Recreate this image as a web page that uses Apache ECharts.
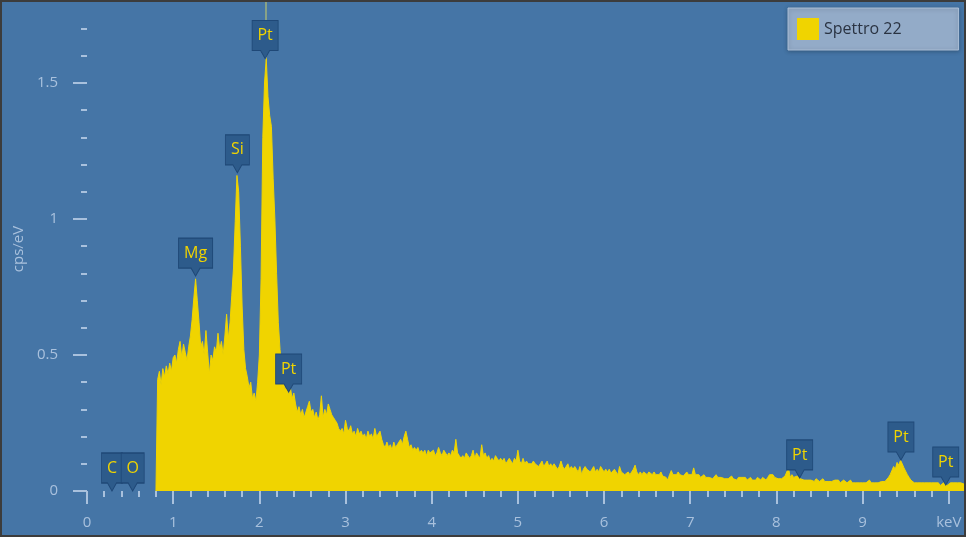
<!DOCTYPE html>
<html>
<head>
<meta charset="utf-8">
<script src="https://cdn.jsdelivr.net/npm/echarts@6/dist/echarts.min.js"></script>
<style>
html,body{margin:0;padding:0;background:#ffffff;}
#chart{width:969px;height:540px;}
</style>
</head>
<body>
<div id="chart"></div>
<script>
// ---------- data ----------
const seriesName = 'Spettro 22';
const yAxisName = 'cps/eV';
const xTickLabels = ['0','1','2','3','4','5','6','7','8','9','keV'];
const yTickValues = [0, 0.5, 1, 1.5];
const yTickLabels = ['0','0.5','1','1.5'];

// spectrum channels: first channel energy (keV) and channel width (keV)
const spectrumStart = 0.82;
const channelWidth = 0.02;
// counts in cps/eV, 10 channels (0.2 keV) per row
const spectrum = [
  0.41,0.44,0.39,0.45,0.42,0.46,0.43,0.47,0.44,0.49,   // 0.82-1.00
  0.50,0.47,0.52,0.55,0.49,0.54,0.51,0.48,0.53,0.57,   // 1.02-1.20
  0.63,0.71,0.78,0.70,0.62,0.53,0.55,0.50,0.59,0.51,   // 1.22-1.40
  0.43,0.50,0.48,0.53,0.51,0.58,0.52,0.55,0.50,0.57,   // 1.42-1.60
  0.65,0.56,0.62,0.72,0.82,0.99,1.16,1.10,0.90,0.68,   // 1.62-1.80
  0.52,0.45,0.42,0.38,0.40,0.34,0.36,0.33,0.40,0.50,   // 1.82-2.00
  0.78,1.30,1.50,1.59,1.45,1.38,1.34,1.15,1.00,0.80,   // 2.02-2.20
  0.62,0.52,0.45,0.40,0.37,0.39,0.35,0.38,0.34,0.36,   // 2.22-2.40
  0.32,0.29,0.31,0.28,0.30,0.27,0.29,0.31,0.33,0.29,   // 2.42-2.60
  0.30,0.27,0.29,0.26,0.28,0.35,0.27,0.30,0.28,0.32,   // 2.62-2.80
  0.30,0.28,0.27,0.26,0.25,0.23,0.22,0.23,0.21,0.26,   // 2.82-3.00
  0.23,0.22,0.24,0.21,0.22,0.20,0.23,0.21,0.22,0.20,   // 3.02-3.20
  0.21,0.19,0.22,0.20,0.21,0.19,0.23,0.20,0.21,0.22,   // 3.22-3.40
  0.19,0.17,0.16,0.18,0.16,0.17,0.15,0.18,0.16,0.17,   // 3.42-3.60
  0.18,0.19,0.17,0.20,0.22,0.19,0.16,0.17,0.15,0.16,   // 3.62-3.80
  0.15,0.16,0.14,0.15,0.14,0.15,0.13,0.15,0.14,0.14,   // 3.82-4.00
  0.15,0.13,0.14,0.16,0.14,0.13,0.15,0.14,0.13,0.14,   // 4.02-4.20
  0.13,0.15,0.14,0.19,0.14,0.13,0.12,0.13,0.12,0.14,   // 4.22-4.40
  0.13,0.12,0.13,0.15,0.12,0.14,0.13,0.12,0.17,0.13,   // 4.42-4.60
  0.14,0.12,0.13,0.11,0.12,0.11,0.13,0.12,0.11,0.12,   // 4.62-4.80
  0.11,0.12,0.10,0.11,0.12,0.11,0.10,0.12,0.11,0.15,   // 4.82-5.00
  0.11,0.10,0.12,0.10,0.11,0.10,0.095,0.10,0.11,0.10,  // 5.02-5.20
  0.10,0.09,0.10,0.11,0.09,0.10,0.11,0.09,0.10,0.09,   // 5.22-5.40
  0.10,0.09,0.08,0.09,0.11,0.09,0.08,0.09,0.10,0.08,   // 5.42-5.60
  0.09,0.08,0.09,0.08,0.07,0.09,0.06,0.08,0.09,0.08,   // 5.62-5.80
  0.08,0.07,0.08,0.09,0.07,0.08,0.07,0.09,0.08,0.07,   // 5.82-6.00
  0.08,0.07,0.08,0.065,0.07,0.08,0.07,0.06,0.09,0.07,  // 6.02-6.20
  0.07,0.06,0.065,0.07,0.06,0.07,0.08,0.095,0.07,0.06, // 6.22-6.40
  0.07,0.06,0.07,0.065,0.06,0.07,0.065,0.06,0.07,0.06, // 6.42-6.60
  0.065,0.06,0.07,0.055,0.06,0.05,0.04,0.06,0.075,0.06,// 6.62-6.80
  0.065,0.06,0.07,0.06,0.065,0.055,0.06,0.07,0.06,0.065,// 6.82-7.00
  0.06,0.085,0.06,0.055,0.06,0.05,0.055,0.06,0.05,0.055,// 7.02-7.20
  0.05,0.055,0.045,0.05,0.06,0.05,0.045,0.05,0.055,0.045,// 7.22-7.40
  0.05,0.045,0.05,0.055,0.045,0.05,0.04,0.05,0.045,0.05,// 7.42-7.60
  0.045,0.05,0.04,0.045,0.05,0.04,0.045,0.04,0.05,0.045,// 7.62-7.80
  0.04,0.05,0.045,0.04,0.05,0.06,0.066,0.06,0.05,0.045,// 7.82-8.00
  0.045,0.05,0.045,0.05,0.055,0.05,0.085,0.05,0.06,0.05,// 8.02-8.20
  0.05,0.055,0.05,0.045,0.05,0.04,0.045,0.04,0.045,0.04,// 8.22-8.40
  0.04,0.035,0.045,0.04,0.035,0.04,0.045,0.035,0.04,0.035,// 8.42-8.60
  0.04,0.035,0.03,0.04,0.035,0.04,0.03,0.035,0.04,0.035,// 8.62-8.80
  0.03,0.035,0.04,0.03,0.035,0.03,0.035,0.03,0.035,0.03,// 8.82-9.00
  0.035,0.03,0.035,0.04,0.03,0.035,0.03,0.035,0.03,0.035,// 9.02-9.20
  0.035,0.04,0.035,0.04,0.05,0.06,0.075,0.09,0.08,0.105,// 9.22-9.40
  0.095,0.113,0.10,0.085,0.09,0.06,0.05,0.04,0.035,0.03,// 9.42-9.60
  0.035,0.03,0.025,0.03,0.025,0.03,0.035,0.03,0.025,0.03,// 9.62-9.80
  0.025,0.03,0.025,0.03,0.02,0.025,0.03,0.025,0.02,0.025,// 9.82-10.00
  0.03,0.025,0.03,0.035,0.03,0.025,0.03,0.03,0.025,0.03 // 10.02-10.20
];

// peak identification markers
const markerLabels = ['C','O','Mg','Si','Pt','Pt','Pt','Pt','Pt'];
const markerEnergy = [0.29, 0.53, 1.26, 1.745, 2.067, 2.34, 8.27, 9.445, 9.965];
const markerTop    = [0.0, 0.0, 0.79, 1.17, 1.59, 0.364, 0.048, 0.114, 0.022];
const cursorEnergy = 2.075;

// ---------- build ----------
const FONT = '"Open Sans", "Noto Sans", sans-serif';
const bg = '#4575a6';
const axisColor = '#a9c1dd';
const yellow = '#f0d400';

const seriesData = [[0.80, 0]].concat(
  spectrum.map((v, i) => [+(spectrumStart + i * channelWidth).toFixed(2), v])
);

// minor y ticks every 0.1 up to the last visible one (1.7)
const yMinorTicks = [];
for (let k = 0; k <= 17; k++) yMinorTicks.push(+(k / 10).toFixed(1));

const cvs = document.createElement('canvas').getContext('2d');
cvs.font = '16px "Open Sans"';
function boxWidth(t) { return Math.round(cvs.measureText(t).width + 11); }
function pinPath(w) {
  const h = 30, p = 8, c = w / 2;
  return 'path://M0,0H' + w + 'V' + h + 'H' + (c + 4.5) + 'L' + c + ',' + (h + p) + 'L' + (c - 4.5) + ',' + h + 'H0Z';
}
const markerData = markerLabels.map((t, i) => {
  const w = boxWidth(t);
  return { name: t, value: [markerEnergy[i], markerTop[i]], symbol: pinPath(w), symbolSize: [w, 38] };
});

const chart = echarts.init(document.getElementById('chart'), null, { renderer: 'canvas' });
const xMax = 10.2, yMax = 1.8;
const pxPerKeV = 86.6, pxPerUnit = 272;

chart.setOption({
  animation: false,
  backgroundColor: bg,
  grid: { left: 87, top: 491 - yMax * pxPerUnit, width: xMax * pxPerKeV, height: yMax * pxPerUnit, containLabel: false },
  legend: {
    data: [seriesName], left: 788, top: 8, icon: 'rect', itemWidth: 22, itemHeight: 22,
    padding: [10, 57, 10, 9], backgroundColor: '#93abc8', borderColor: '#abbfd7', borderWidth: 1,
    shadowBlur: 4, shadowColor: 'rgba(0,0,0,0.25)', shadowOffsetY: 1,
    selectedMode: false, itemStyle: { borderWidth: 0 },
    textStyle: { color: '#2a3342', fontSize: 16, fontFamily: FONT }
  },
  xAxis: [
    {
      type: 'value', min: 0, max: xMax, interval: 1, position: 'bottom', offset: 4,
      axisLine: { show: false }, splitLine: { show: false },
      axisTick: { length: 13, lineStyle: { color: axisColor, width: 2 } },
      axisLabel: {
        margin: 20, color: axisColor, fontSize: 15, fontFamily: FONT,
        formatter: v => { const i = Math.round(v); return Math.abs(v - i) < 1e-6 && i < xTickLabels.length ? xTickLabels[i] : ''; }
      }
    },
    {
      type: 'value', min: 0, max: xMax, interval: 0.2, position: 'bottom', offset: 5,
      axisLine: { show: false }, splitLine: { show: false },
      axisTick: { length: 6, lineStyle: { color: axisColor, width: 2 } },
      axisLabel: { show: false }
    }
  ],
  yAxis: [
    {
      type: 'value', min: 0, max: yMax, interval: 0.5, position: 'left', offset: 10,
      axisLine: { show: false }, splitLine: { show: false },
      axisTick: { length: 14, customValues: yTickValues, lineStyle: { color: axisColor, width: 2 } },
      axisLabel: {
        margin: 19, color: axisColor, fontSize: 15, fontFamily: FONT, customValues: yTickValues,
        formatter: v => { const i = yTickValues.findIndex(t => Math.abs(t - v) < 1e-6); return i >= 0 ? yTickLabels[i] : ''; }
      }
    },
    {
      type: 'value', min: 0, max: yMax, interval: 0.1, position: 'left', offset: 10,
      axisLine: { show: false }, splitLine: { show: false },
      axisTick: { length: 6, customValues: yMinorTicks, lineStyle: { color: axisColor, width: 2 } },
      axisLabel: { show: false }
    }
  ],
  series: [
    {
      name: seriesName, type: 'line', xAxisIndex: 0, yAxisIndex: 0, data: seriesData,
      symbol: 'none', showSymbol: false, z: 2,
      itemStyle: { color: yellow },
      lineStyle: { color: yellow, width: 1 },
      areaStyle: { color: yellow, opacity: 1 }
    },
    {
      name: 'markers', type: 'scatter', xAxisIndex: 0, yAxisIndex: 0, z: 5, silent: true,
      data: markerData, symbolOffset: [0, '-50%'],
      itemStyle: { color: '#2d5b8b', borderColor: '#1f4877', borderWidth: 1, opacity: 1 },
      label: { show: true, position: 'inside', offset: [0, -4], formatter: '{b}', color: yellow, fontSize: 16, fontFamily: FONT }
    },
    {
      name: 'cursor', type: 'line', xAxisIndex: 0, yAxisIndex: 0, data: [], z: 6,
      markLine: {
        silent: true, symbol: 'none', label: { show: false },
        lineStyle: { color: 'rgba(190,198,110,0.75)', width: 1.5, type: 'solid' },
        data: [[{ coord: [cursorEnergy, markerTop[4]] }, { coord: [cursorEnergy, yMax] }]]
      }
    }
  ],
  graphic: [
    { type: 'text', x: 19, y: 249, rotation: Math.PI / 2, z: 50,
      style: { text: yAxisName, fill: axisColor, font: '15px ' + FONT, align: 'center', verticalAlign: 'middle' } },
    { type: 'rect', z: 100, shape: { x: 966, y: 0, width: 3, height: 540 }, style: { fill: '#ffffff' } },
    { type: 'rect', z: 100, shape: { x: 0, y: 537, width: 969, height: 3 }, style: { fill: '#ffffff' } },
    { type: 'rect', z: 101, shape: { x: 1, y: 1, width: 964, height: 535 }, style: { fill: null, stroke: '#3c3c3c', lineWidth: 2 } }
  ]
});
</script>
</body>
</html>
